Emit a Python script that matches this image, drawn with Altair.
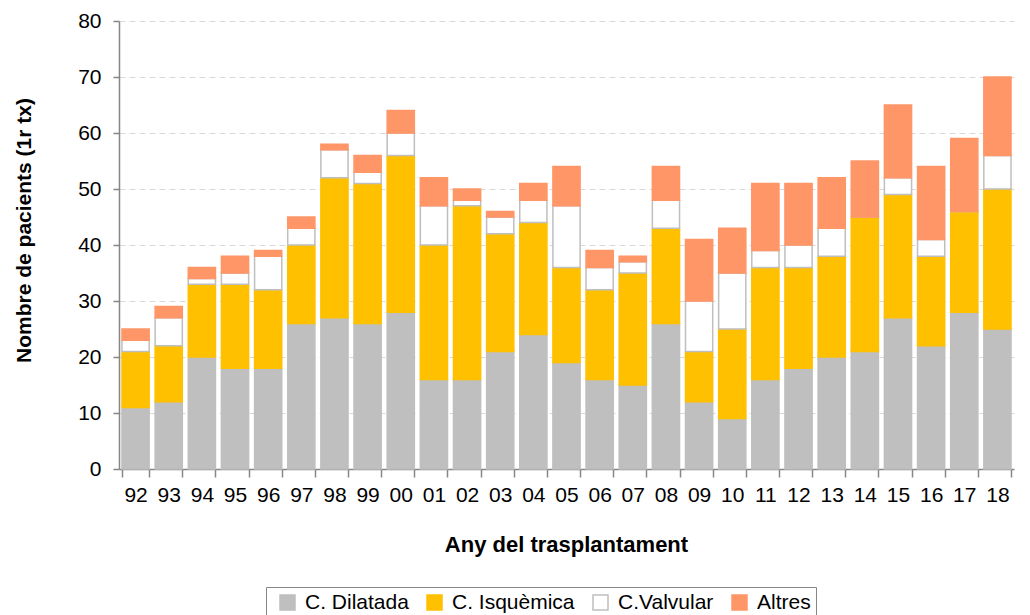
import altair as alt
import pandas as pd

years = ["92", "93", "94", "95", "96", "97", "98", "99", "00", "01", "02", "03", "04",
         "05", "06", "07", "08", "09", "10", "11", "12", "13", "14", "15", "16", "17", "18"]
cats = ["C. Dilatada", "C. Isquèmica", "C.Valvular", "Altres"]
dilatada = [11, 12, 20, 18, 18, 26, 27, 26, 28, 16, 16, 21, 24, 19, 16, 15, 26, 12, 9, 16, 18, 20, 21, 27, 22, 28, 25]
isquemica = [10, 10, 13, 15, 14, 14, 25, 25, 28, 24, 31, 21, 20, 17, 16, 20, 17, 9, 16, 20, 18, 18, 24, 22, 16, 18, 25]
valvular = [2, 5, 1, 2, 6, 3, 5, 2, 4, 7, 1, 3, 4, 11, 4, 2, 5, 9, 10, 3, 4, 5, 0, 3, 3, 0, 6]
altres = [2, 2, 2, 3, 1, 2, 1, 3, 4, 5, 2, 1, 3, 7, 3, 1, 6, 11, 8, 12, 11, 9, 10, 13, 13, 13, 14]

fills = ["#BFBFBF", "#FFC000", "#FFFFFF", "#FF9668"]
strokes = ["#BFBFBF", "#FFC000", "#BFBFBF", "#FF9668"]

rows = []
for i, y in enumerate(years):
    for k, (c, vals) in enumerate(zip(cats, [dilatada, isquemica, valvular, altres])):
        rows.append({"Any": y, "Tipus": c, "Pacients": vals[i], "ordre": k})
df = pd.DataFrame(rows)

FONT = "Liberation Sans"

legend = alt.Legend(
    title=" ", titleOrient="left", titlePadding=6, titleFontSize=14,
    orient="none", legendX=147, legendY=566, direction="horizontal",
    symbolType="square", symbolSize=225, symbolStrokeWidth=1.5,
    labelFontSize=21, labelFont=FONT, labelColor="#000000", labelOffset=7,
    columnPadding=15, strokeColor="#868686", padding=5, fillColor="#FFFFFF",
)

chart = alt.Chart(df).mark_bar(strokeWidth=1.5).encode(
    x=alt.X("Any:N", sort=years, title="Any del trasplantament",
            scale=alt.Scale(paddingInner=0.18, paddingOuter=0.09),
            axis=alt.Axis(labelAngle=0, tickBand="extent", labelFontSize=21, labelFont=FONT,
                          labelColor="#000000", tickSize=8, tickColor="#868686",
                          tickWidth=1.5, domainColor="#868686", domainWidth=1.5,
                          labelPadding=7, titleFontSize=22, titleFont=FONT,
                          titleFontWeight="bold", titlePadding=29, titleColor="#000000",
                          titleX=447)),
    y=alt.Y("Pacients:Q", stack="zero", title="Nombre de pacients (1r tx)",
            scale=alt.Scale(domain=[0, 80]),
            axis=alt.Axis(values=list(range(0, 81, 10)), labelFontSize=21, labelFont=FONT,
                          labelColor="#000000", tickSize=6, tickColor="#868686",
                          tickWidth=1.5, domainColor="#868686", domainWidth=1.5,
                          gridColor="#D9D9D9", gridDash=[6, 4], gridWidth=1.2,
                          labelPadding=12, titleFontSize=21, titleFont=FONT,
                          titleFontWeight="bold", titlePadding=43, titleColor="#000000",
                          titleY=209)),
    fill=alt.Fill("Tipus:N", scale=alt.Scale(domain=cats, range=fills), legend=legend),
    stroke=alt.Stroke("Tipus:N", scale=alt.Scale(domain=cats, range=strokes), legend=legend),
    order=alt.Order("ordre:Q"),
).properties(
    width=895, height=448, background="#FFFFFF",
    padding={"left": 5, "top": 2, "right": 5, "bottom": 5},
).configure_view(stroke=None)

chart.save("out.html", embed_options={"renderer": "svg", "actions": False})
